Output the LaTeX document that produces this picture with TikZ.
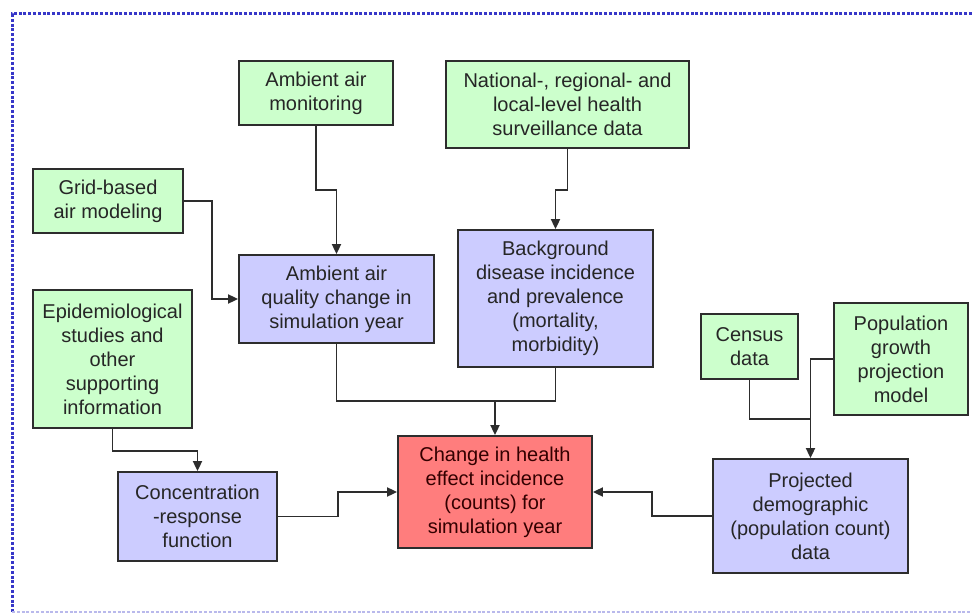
\documentclass[tikz,border=0pt]{standalone}
\usepackage{fontspec}
\setmainfont{Liberation Sans}
\usetikzlibrary{arrows.meta}
\definecolor{boxgreen}{RGB}{204,255,204}
\definecolor{boxblue}{RGB}{204,204,255}
\definecolor{boxred}{RGB}{255,125,125}
\definecolor{frameblue}{RGB}{55,55,200}
\definecolor{linegray}{RGB}{45,45,45}
\tikzset{
  box/.style={draw=linegray, line width=1.8pt, align=center, inner sep=0pt,
    font=\fontsize{20}{24}\selectfont, text=black!85},
  gbox/.style={box, fill=boxgreen},
  bbox/.style={box, fill=boxblue},
  rbox/.style={box, fill=boxred, text=black!80!red},
  link/.style={draw=linegray, line width=1.8pt},
  arrow/.style={link, -{Triangle[length=10pt,width=9pt]}}
}
\begin{document}
\begin{tikzpicture}[x=1pt,y=-1pt]
\useasboundingbox (0,0) rectangle (972,615);
\draw[frameblue, line width=3pt, dash pattern=on 3pt off 1.8pt] (972,14) -- (12,14) -- (12,612);
\draw[frameblue!35, line width=1.8pt, dash pattern=on 3pt off 1.8pt] (12,612) -- (972,612);
% inputs
\node [gbox, minimum width=154pt, minimum height=64pt] (monitor) at (316,93) {Ambient air\\monitoring};
\node [gbox, minimum width=243pt, minimum height=87pt] (national) at (567.5,104.5) {National-, regional- and\\local-level health\\surveillance data};
\node [gbox, minimum width=150pt, minimum height=64pt] (grid) at (108,201) {Grid-based\\air modeling};
\node [gbox, minimum width=159pt, minimum height=138pt] (epi) at (112.5,359) {Epidemiological\\studies and\\other\\supporting\\information};
\node [gbox, minimum width=97pt, minimum height=65pt] (census) at (749.5,346.5) {Census\\data};
\node [gbox, minimum width=134pt, minimum height=112pt] (popgrow) at (901,359) {Population\\growth\\projection\\model};
% intermediate results
\node [bbox, minimum width=195pt, minimum height=88pt] (airq) at (336.5,299) {Ambient air\\quality change in\\simulation year};
\node [bbox, minimum width=195pt, minimum height=137pt] (backg) at (555.5,298.5) {Background\\disease incidence\\and prevalence\\(mortality,\\morbidity)};
\node [bbox, minimum width=159pt, minimum height=89pt] (conc) at (197.5,516.5) {Concentration\\-response\\function};
\node [bbox, minimum width=195pt, minimum height=114pt] (proj) at (810.5,516) {Projected\\demographic\\(population count)\\data};
\node [rbox, minimum width=194pt, minimum height=112pt] (change) at (495,492) {Change in health\\effect incidence\\(counts) for\\simulation year};
\coordinate (merge) at (495,401);
\coordinate (join) at (811,419);
% connectors
\draw [arrow] (monitor.south) -- ++(0,64) -| (airq.north);
\draw [arrow] (national.south) -- ++(0,41) -| (backg.north);
\draw [arrow] (grid.east) -- ++(28,0) |- (airq.west);
\draw [arrow] (epi.south) -- ++(0,22) -| (conc.north);
\draw [arrow] (conc.east) -- ++(60,0) |- (change.west);
\draw [arrow] (proj.west) -- ++(-60,0) |- (change.east);
\draw [link] (airq.south) |- (merge) -| (backg.south);
\draw [arrow] (merge) -- (change.north);
\draw [link] (census.south) |- (join);
\draw [arrow] (popgrow.west) -| (proj.north);
\end{tikzpicture}
\end{document}
